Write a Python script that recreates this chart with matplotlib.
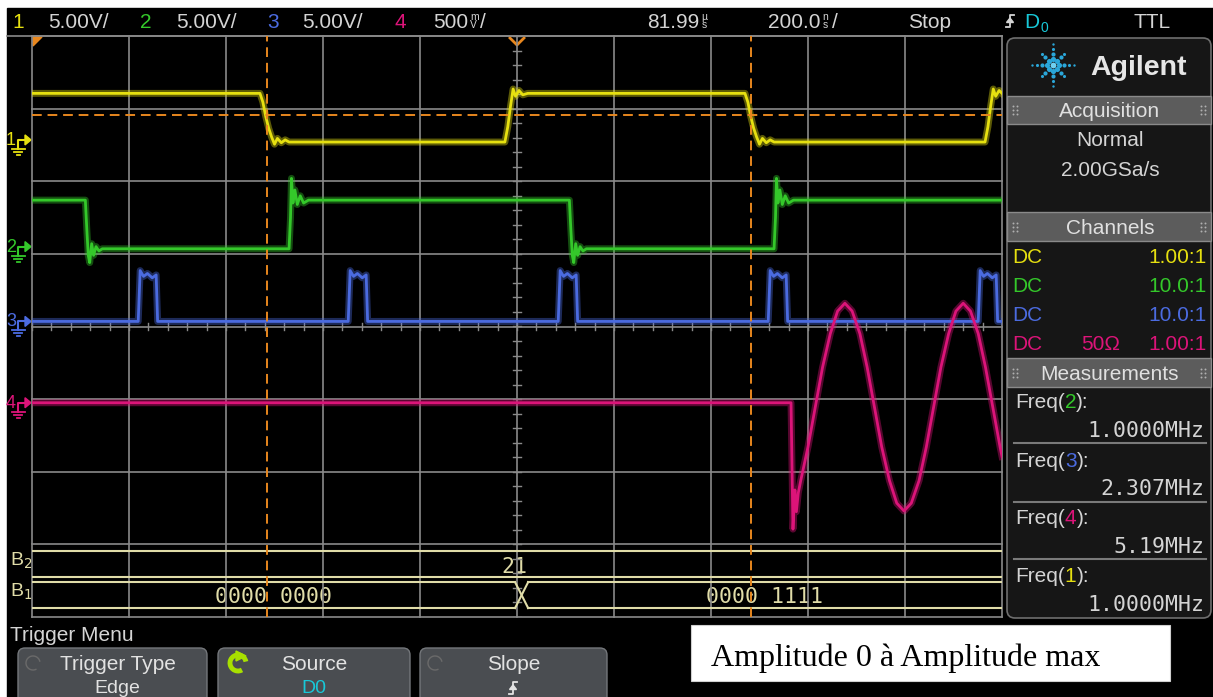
import numpy as np
import matplotlib
matplotlib.use("Agg")
import matplotlib.pyplot as plt
from matplotlib.patches import Rectangle, FancyBboxPatch, Polygon, Arc

W, H = 1213, 697

# ---- waveforms: time in ns (centre = 0), level in volts ----
ch1_t = [-1000, -530, -524, -518, -512, -506, -500, -494, -486, -478, -470,
         -25, -19, -13, -8, -3, 4, 12, 22,
         470, 476, 482, 488, 494, 500, 506, 514, 522, 530,
         965, 971, 977, 982, 987, 994, 1000]
ch1_v = [3.2, 3.2, 2.6, 1.6, 0.8, 0.2, -0.3, 0.1, -0.2, 0.0, -0.15,
         -0.15, 0.9, 2.4, 3.5, 3.0, 3.4, 3.1, 3.2,
         3.2, 2.6, 1.6, 0.8, 0.2, -0.3, 0.1, -0.2, 0.0, -0.15,
         -0.15, 0.9, 2.4, 3.5, 3.0, 3.4, 3.2]

ch2_t = [-1000, -890, -887, -884, -881, -877, -873, -868, -862, -855,
         -470, -467, -465, -462, -458, -453, -447, -440, -430,
         108, 111, 114, 117, 121, 125, 130, 136, 143,
         530, 533, 535, 538, 542, 547, 553, 560, 570, 1000]
ch2_v = [3.2, 3.2, 1.2, -0.6, -1.1, 0.2, -0.6, 0.0, -0.3, -0.15,
         -0.15, 2.0, 4.7, 3.0, 3.9, 2.9, 3.5, 3.0, 3.2,
         3.2, 1.2, -0.6, -1.1, 0.2, -0.6, 0.0, -0.3, -0.15,
         -0.15, 2.0, 4.7, 3.0, 3.9, 2.9, 3.5, 3.0, 3.2, 3.2]

ch3_t = [-1000,
         -781, -777, -770, -762, -752, -744, -741,
         -348, -344, -337, -329, -319, -311, -308,
         85, 89, 96, 104, 114, 122, 125,
         518, 522, 529, 537, 547, 555, 558,
         951, 955, 962, 970, 980, 988, 991,
         1000]
ch3_v = [0.0,
         0.0, 3.5, 3.1, 3.3, 3.0, 3.2, 0.0,
         0.0, 3.5, 3.1, 3.3, 3.0, 3.2, 0.0,
         0.0, 3.5, 3.1, 3.3, 3.0, 3.2, 0.0,
         0.0, 3.5, 3.1, 3.3, 3.0, 3.2, 0.0,
         0.0, 3.5, 3.1, 3.3, 3.0, 3.2, 0.0,
         0.0]

ch4_t = [-1000, 565, 569, 573, 576, 580, 585, 600, 615, 630, 646, 661, 676,
         691, 707, 722, 737, 752, 768, 783, 798, 813, 829, 844, 859, 874,
         890, 905, 920, 935, 951, 966, 981, 996, 1000]
ch4_v = [0.0, 0.0, -0.87, -0.6, -0.75, -0.62, -0.536, -0.304, -0.03, 0.244,
         0.476, 0.631, 0.685, 0.631, 0.476, 0.244, -0.03, -0.304, -0.536,
         -0.691, -0.745, -0.691, -0.536, -0.304, -0.03, 0.244, 0.476, 0.631,
         0.685, 0.631, 0.476, 0.244, -0.03, -0.304, -0.37]

ch_scale = [5.0, 5.0, 5.0, 0.5]          # V/div
ch_ground = [2.57, 1.10, 0.07, -1.05]    # divisions from screen centre
cursor_t = [-515, 483]
trig_level = 2.91

bus_b1 = ["0000 0000", "0000 1111"]
bus_b1_t = [-503, 511]
bus_b2 = ["21"]
bus_b2_t = [-6]

ratios = ["1.00:1", "10.0:1", "10.0:1", "1.00:1"]
meas_ch = ["2", "3", "4", "1"]
meas_val = ["1.0000MHz", "2.307MHz", "5.19MHz", "1.0000MHz"]

YEL = "#e6e010"
GRN = "#34c82a"
BLU = "#4b6be0"
MAG = "#dc1479"
ORG = "#e8871e"
GRID = "#8a8a8a"
BUS = "#e0dca8"
TXT = "#d4d4d4"
CYAN = "#18c8d8"
colors = [YEL, GRN, BLU, MAG]
SANS = "Liberation Sans"
MONO = "DejaVu Sans Mono"

fig = plt.figure(figsize=(W / 100, H / 100), dpi=100)
fig.patch.set_facecolor("white")
bg = fig.add_axes([0, 0, 1, 1])
bg.set_xlim(0, W)
bg.set_ylim(H, 0)
bg.axis("off")
bg.add_patch(Rectangle((7, 8), W - 7, H - 8, color="black", zorder=0))
r = fig.canvas.get_renderer()


def put(x, y, s, c=TXT, size=15, ha="left", family=SANS, **kw):
    return bg.text(x, y, s, color=c, fontsize=size, ha=ha, va="baseline",
                   family=family, zorder=6, **kw)


def width(t):
    return t.get_window_extent(renderer=r).width


def stacked(x, yc, top, bot):
    # tiny unit prefix stacked over the unit, as the scope draws it
    bg.text(x, yc, top + "\n" + bot, color=TXT, fontsize=7.5, ha="left",
            va="center", family=SANS, linespacing=0.8, zorder=6)


def slope_icon(x, y, h=12, c=TXT):
    bg.plot([x - 4, x, x, x + 4], [y + h / 2, y + h / 2, y - h / 2, y - h / 2],
            color=c, lw=1.3, zorder=6)
    bg.add_patch(Polygon([[x - 3.5, y + 1.5], [x + 3.5, y + 1.5], [x, y - 3]],
                         color=c, zorder=6))


def py(d):
    return 326.5 - d * 72.6


# ---- top status bar ----
BL = 28
put(18, BL, "1", YEL, ha="center")
put(48, BL, "5.00V/")
put(146, BL, "2", GRN, ha="center")
put(176, BL, "5.00V/")
put(273, BL, "3", BLU, ha="center")
put(302, BL, "5.00V/")
put(400, BL, "4", MAG, ha="center")
t = put(433, BL, "500")
x = 433 + width(t)
stacked(x + 2, 21, "m", "V")
put(x + 12, BL, "/")
t = put(647, BL, "81.99")
stacked(647 + width(t) + 2, 21, "µ", "s")
t = put(768, BL, "200.0")
x = 768 + width(t)
stacked(x + 2, 21, "n", "s")
put(x + 12, BL, "/")
put(908, BL, "Stop")
slope_icon(1010, 21)
t = put(1024, BL, "D", CYAN)
put(1024 + width(t) + 1, BL + 4, "0", CYAN, size=10)
put(1133, BL, "TTL")

# ---- graticule ----
X0, X1, Y0, Y1 = 32, 1002, 36, 617
sc = fig.add_axes([X0 / W, 1 - Y1 / H, (X1 - X0) / W, (Y1 - Y0) / H])
sc.set_xlim(-1000, 1000)
sc.set_ylim(-4, 4)
sc.axis("off")
for gx in np.arange(-1000, 1001, 200):
    sc.axvline(gx, color=GRID, lw=1.2, clip_on=False, zorder=1)
for gy in range(-4, 5):
    sc.axhline(gy, color=GRID, lw=1.2, clip_on=False, zorder=1)
for mx in np.arange(-1000, 1001, 40):
    sc.plot([mx, mx], [-0.05, 0.05], color=GRID, lw=1, zorder=1)
for my in np.arange(-4, 4.01, 0.2):
    sc.plot([-8, 8], [my, my], color=GRID, lw=1, zorder=1)
bg.plot([7, X1], [Y0, Y0], color=GRID, lw=1.2, zorder=1)

# traces
traces = [(ch1_t, ch1_v), (ch2_t, ch2_v), (ch3_t, ch3_v), (ch4_t, ch4_v)]
for i, (tt, vv) in enumerate(traces):
    yy = ch_ground[i] + np.array(vv) / ch_scale[i]
    sc.plot(tt, yy, color=colors[i], lw=5, alpha=0.4, zorder=3)
    sc.plot(tt, yy, color=colors[i], lw=2, zorder=4)

# cursors and trigger level
for ct in cursor_t:
    sc.axvline(ct, color=ORG, lw=1.4, ls=(0, (5, 3)), zorder=5)
sc.axhline(trig_level, color=ORG, lw=1.4, ls=(0, (5, 3)), zorder=5)
bg.add_patch(Polygon([[33, 37], [42, 37], [33, 46]], color=ORG, zorder=6))
bg.plot([510, 517, 524], [38, 45, 38], color=ORG, lw=2, zorder=6)

# serial buses
b2_top, b2_bot, b1_top, b1_bot = -3.092, -3.45, -3.52, -3.877
for yb in (b2_top, b2_bot):
    sc.plot([-1000, 1000], [yb, yb], color=BUS, lw=1.5, zorder=2)
xa, xb = -4, 23
for yb in (b1_top, b1_bot):
    sc.plot([-1000, xa], [yb, yb], color=BUS, lw=1.5, zorder=2)
    sc.plot([xb, 1000], [yb, yb], color=BUS, lw=1.5, zorder=2)
sc.plot([xa, xb], [b1_top, b1_bot], color=BUS, lw=1.5, zorder=2)
sc.plot([xa, xb], [b1_bot, b1_top], color=BUS, lw=1.5, zorder=2)
for s, tb in zip(bus_b2, bus_b2_t):
    put(X0 + (tb + 1000) / 2000 * (X1 - X0), 573, s, BUS, 15.5, "center", MONO)
for s, tb in zip(bus_b1, bus_b1_t):
    put(X0 + (tb + 1000) / 2000 * (X1 - X0), 603, s, BUS, 15.5, "center", MONO)
put(10, 566, r"B$_2$", BUS, 14)
put(10, 597, r"B$_1$", BUS, 14)

# ground markers
for i in range(4):
    gy = py(ch_ground[i])
    c = colors[i]
    put(11, gy + 5, str(i + 1), c, 13, "center")
    bg.plot([18, 18, 25], [gy + 9, gy, gy], color=c, lw=1.5, zorder=6)
    bg.add_patch(Polygon([[25, gy - 5], [31, gy], [25, gy + 5]], color=c, zorder=6))
    for dy, half in ((9, 6.5), (12, 4), (15, 1.5)):
        bg.plot([18 - half, 18 + half], [gy + dy, gy + dy], color=c, lw=1.3, zorder=6)

# ---- right side panel ----
bg.add_patch(FancyBboxPatch((1007, 38), 204, 580, boxstyle="round,pad=0,rounding_size=8",
                            fc="#161616", ec="#6e6e6e", lw=1.2, zorder=1))
# Agilent spark
for a in range(0, 360, 45):
    radii = [6, 11, 16, 21] if a % 90 == 0 else [6, 11, 15]
    for k, rr in enumerate(radii):
        bg.scatter(1053 + rr * np.cos(np.radians(a)), 65 + rr * np.sin(np.radians(a)),
                   s=[14, 9, 5, 3][k], color="#2aa6d8", zorder=6, linewidths=0)
bg.scatter(1053, 65, s=18, color="#6fd0f0", zorder=6, linewidths=0)
put(1090, 75, "Agilent", "#e6e6e6", 20.5, weight="bold")

for y0, y1, label in ((96, 124, "Acquisition"), (212, 241, "Channels"),
                      (358, 387, "Measurements")):
    bg.add_patch(Rectangle((1007, y0), 204, y1 - y0, fc="#5c5c5c", ec="#8a8a8a",
                           lw=1, zorder=2))
    put(1110, y1 - 7, label, "#e0e0e0", 15, "center")
    for dx in (1013, 1201):
        for ddx in (0, 4):
            for ddy in (-4, 0, 4):
                bg.scatter(dx + ddx, (y0 + y1) / 2 + ddy, s=2, color="#b0b0b0",
                           zorder=6, linewidths=0)

put(1110, 146, "Normal", TXT, 15, "center")
put(1110, 176, "2.00GSa/s", TXT, 15, "center")

for i, yb in enumerate((263, 292, 321, 350)):
    put(1012, yb, "DC", colors[i], 15)
    put(1207, yb, ratios[i], colors[i], 15, "right")
put(1101, 350, "50Ω", MAG, 15, "center")

label_base = [408, 467, 524, 582]
value_base = [437, 495, 553, 611]
for i in range(4):
    t = put(1015, label_base[i], "Freq(", TXT, 15)
    x = 1015 + width(t)
    t = put(x, label_base[i], meas_ch[i], colors[int(meas_ch[i]) - 1], 15)
    x += width(t)
    put(x, label_base[i], "):", TXT, 15)
    put(1204, value_base[i], meas_val[i], TXT, 15.5, "right", MONO)
for ys in (443, 502, 559):
    bg.plot([1014, 1206], [ys, ys], color="#7a7a7a", lw=1.5, zorder=6)

# ---- softkey menu ----
put(10, 641, "Trigger Menu", TXT, 15)
buttons = [(18, 207, "Trigger Type", "Edge"), (218, 410, "Source", "D0"),
           (420, 607, "Slope", "")]
for bx0, bx1, top, bot in buttons:
    bg.add_patch(FancyBboxPatch((bx0, 648), bx1 - bx0, 70,
                                boxstyle="round,pad=0,rounding_size=7",
                                fc="#4a4d51", ec="#74777b", lw=1, zorder=2))
    cx = (bx0 + bx1) / 2
    put(cx + (5 if top == "Trigger Type" else 0), 670, top, "#e2e2e2", 15, "center")
    if bot:
        put(cx + (5 if bot == "Edge" else 0), 693, bot,
            CYAN if bot == "D0" else "#e2e2e2", 14, "center")
slope_icon(513, 688, 12, "#e2e2e2")
bg.add_patch(Arc((238, 663), 16, 16, theta1=60, theta2=350, color="#a8e000", lw=3.5, zorder=6))
bg.add_patch(Polygon([[236, 651], [246, 656], [236, 661]], color="#a8e000", zorder=6))
for ax_ in (33, 435):
    bg.add_patch(Arc((ax_, 663), 14, 14, theta1=60, theta2=350, color="#6a6a6a", lw=1, zorder=6))

# ---- annotation box ----
bg.add_patch(Rectangle((691, 625), 479, 56, fc="white", ec="#cfcfcf", lw=0.8, zorder=6))
bg.text(711, 666, "Amplitude 0 à Amplitude max", color="black", fontsize=23,
        family="Liberation Serif", ha="left", va="baseline", zorder=7)

fig.savefig("out.png", dpi=100, facecolor=fig.get_facecolor())
